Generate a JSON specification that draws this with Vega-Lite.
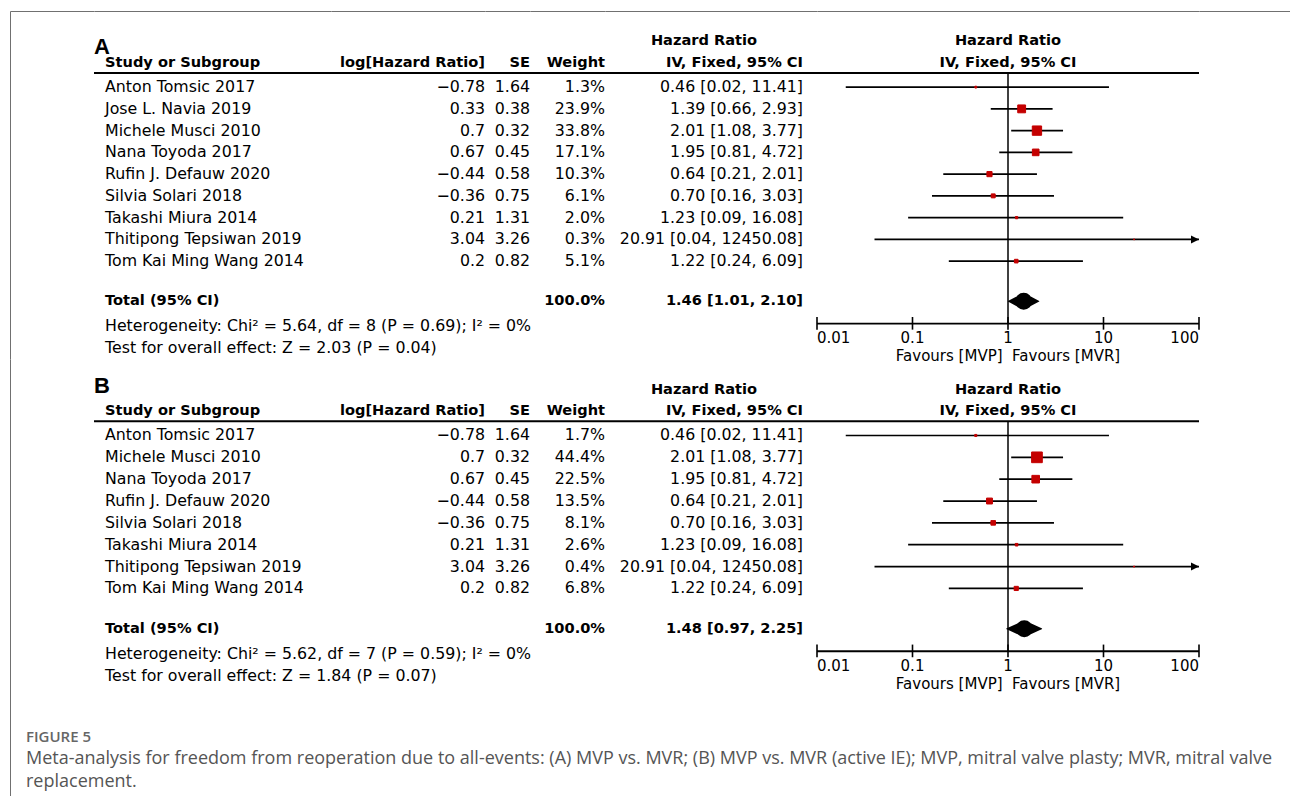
{
  "$schema": "https://vega.github.io/schema/vega-lite/v6.json",
  "background": "white",
  "padding": {"left": 9, "top": 10, "right": 0, "bottom": 0},
  "columns": 8,
  "spacing": 0,
  "bounds": "flush",
  "align": "each",
  "datasets": {
    "studiesA": [
      {"study": "Anton Tomsic 2017", "loghr": -0.78, "se": 1.64, "weight": 0.013, "hr": 0.46, "lo": 0.02, "hi": 11.41, "ci": "0.46 [0.02, 11.41]"},
      {"study": "Jose L. Navia 2019", "loghr": 0.33, "se": 0.38, "weight": 0.239, "hr": 1.39, "lo": 0.66, "hi": 2.93, "ci": "1.39 [0.66, 2.93]"},
      {"study": "Michele Musci 2010", "loghr": 0.7, "se": 0.32, "weight": 0.338, "hr": 2.01, "lo": 1.08, "hi": 3.77, "ci": "2.01 [1.08, 3.77]"},
      {"study": "Nana Toyoda 2017", "loghr": 0.67, "se": 0.45, "weight": 0.171, "hr": 1.95, "lo": 0.81, "hi": 4.72, "ci": "1.95 [0.81, 4.72]"},
      {"study": "Rufin J. Defauw 2020", "loghr": -0.44, "se": 0.58, "weight": 0.103, "hr": 0.64, "lo": 0.21, "hi": 2.01, "ci": "0.64 [0.21, 2.01]"},
      {"study": "Silvia Solari 2018", "loghr": -0.36, "se": 0.75, "weight": 0.061, "hr": 0.70, "lo": 0.16, "hi": 3.03, "ci": "0.70 [0.16, 3.03]"},
      {"study": "Takashi Miura 2014", "loghr": 0.21, "se": 1.31, "weight": 0.020, "hr": 1.23, "lo": 0.09, "hi": 16.08, "ci": "1.23 [0.09, 16.08]"},
      {"study": "Thitipong Tepsiwan 2019", "loghr": 3.04, "se": 3.26, "weight": 0.003, "hr": 20.91, "lo": 0.04, "hi": 12450.08, "ci": "20.91 [0.04, 12450.08]"},
      {"study": "Tom Kai Ming Wang 2014", "loghr": 0.2, "se": 0.82, "weight": 0.051, "hr": 1.22, "lo": 0.24, "hi": 6.09, "ci": "1.22 [0.24, 6.09]"}
    ],
    "summaryA": [
      {"line": "total", "label": "Total (95% CI)", "weight": 1, "hr": 1.46, "lo": 1.01, "hi": 2.10, "ci": "1.46 [1.01, 2.10]"}
    ],
    "notesA": [
      {"line": "het", "t": "Heterogeneity: Chi² = 5.64, df = 8 (P = 0.69); I² = 0%"},
      {"line": "test", "t": "Test for overall effect: Z = 2.03 (P = 0.04)"}
    ],
    "studiesB": [
      {"study": "Anton Tomsic 2017", "loghr": -0.78, "se": 1.64, "weight": 0.017, "hr": 0.46, "lo": 0.02, "hi": 11.41, "ci": "0.46 [0.02, 11.41]"},
      {"study": "Michele Musci 2010", "loghr": 0.7, "se": 0.32, "weight": 0.444, "hr": 2.01, "lo": 1.08, "hi": 3.77, "ci": "2.01 [1.08, 3.77]"},
      {"study": "Nana Toyoda 2017", "loghr": 0.67, "se": 0.45, "weight": 0.225, "hr": 1.95, "lo": 0.81, "hi": 4.72, "ci": "1.95 [0.81, 4.72]"},
      {"study": "Rufin J. Defauw 2020", "loghr": -0.44, "se": 0.58, "weight": 0.135, "hr": 0.64, "lo": 0.21, "hi": 2.01, "ci": "0.64 [0.21, 2.01]"},
      {"study": "Silvia Solari 2018", "loghr": -0.36, "se": 0.75, "weight": 0.081, "hr": 0.70, "lo": 0.16, "hi": 3.03, "ci": "0.70 [0.16, 3.03]"},
      {"study": "Takashi Miura 2014", "loghr": 0.21, "se": 1.31, "weight": 0.026, "hr": 1.23, "lo": 0.09, "hi": 16.08, "ci": "1.23 [0.09, 16.08]"},
      {"study": "Thitipong Tepsiwan 2019", "loghr": 3.04, "se": 3.26, "weight": 0.004, "hr": 20.91, "lo": 0.04, "hi": 12450.08, "ci": "20.91 [0.04, 12450.08]"},
      {"study": "Tom Kai Ming Wang 2014", "loghr": 0.2, "se": 0.82, "weight": 0.068, "hr": 1.22, "lo": 0.24, "hi": 6.09, "ci": "1.22 [0.24, 6.09]"}
    ],
    "summaryB": [
      {"line": "total", "label": "Total (95% CI)", "weight": 1, "hr": 1.48, "lo": 0.97, "hi": 2.25, "ci": "1.48 [0.97, 2.25]"}
    ],
    "notesB": [
      {"line": "het", "t": "Heterogeneity: Chi² = 5.62, df = 7 (P = 0.59); I² = 0%"},
      {"line": "test", "t": "Test for overall effect: Z = 1.84 (P = 0.07)"}
    ],
    "ticks": [{"v": 0.01}, {"v": 0.1}, {"v": 1}, {"v": 10}, {"v": 100}]
  },
  "concat": [
    {
      "width": 84, "height": 348,
      "view": {"stroke": "#707070", "strokeWidth": 1, "strokeDash": [84, 432, 348, 0]},
      "data": {"values": [{"line": "hdr1", "t": "A"}]},
      "mark": {"type": "text", "align": "left", "font": "Liberation Sans", "fontWeight": "bold", "fontSize": 22},
      "encoding": {
        "x": {"value": "width"},
        "y": {"field": "line", "type": "nominal", "bandPosition": 0.65, "scale": {"type": "band", "domain": ["pad","hdr1","hdr2","Anton Tomsic 2017","Jose L. Navia 2019","Michele Musci 2010","Nana Toyoda 2017","Rufin J. Defauw 2020","Silvia Solari 2018","Takashi Miura 2014","Thitipong Tepsiwan 2019","Tom Kai Ming Wang 2014","gap","total","het","test"]}},
        "text": {"field": "t"}
      }
    },
    {
      "width": 237, "height": 348,
      "view": {"stroke": "#707070", "strokeWidth": 1, "strokeDash": [237, 933]},
      "layer": [
        {"data": {"values": [{"line": "hdr2"}]}, "mark": {"type": "rule", "strokeWidth": 2.2},
         "encoding": {"y": {"field": "line", "type": "nominal", "bandPosition": 0.85, "scale": {"type": "band", "domain": ["pad","hdr1","hdr2","Anton Tomsic 2017","Jose L. Navia 2019","Michele Musci 2010","Nana Toyoda 2017","Rufin J. Defauw 2020","Silvia Solari 2018","Takashi Miura 2014","Thitipong Tepsiwan 2019","Tom Kai Ming Wang 2014","gap","total","het","test"]}}}},
        {"data": {"values": [{"line": "hdr2", "t": "Study or Subgroup"}]}, "mark": {"type": "text", "align": "left", "dx": 11, "fontWeight": "bold", "fontSize": 14.6},
         "encoding": {"x": {"value": 0}, "y": {"field": "line", "type": "nominal", "bandPosition": 0.4}, "text": {"field": "t"}}},
        {"data": {"name": "studiesA"}, "mark": {"type": "text", "align": "left", "dx": 11},
         "encoding": {"x": {"value": 0}, "y": {"field": "study", "type": "nominal"}, "text": {"field": "study"}}},
        {"data": {"name": "summaryA"}, "mark": {"type": "text", "align": "left", "dx": 11, "fontWeight": "bold", "fontSize": 14.6},
         "encoding": {"x": {"value": 0}, "y": {"field": "line", "type": "nominal", "bandPosition": 0.35}, "text": {"field": "label"}}},
        {"data": {"name": "notesA"}, "mark": {"type": "text", "align": "left", "dx": 11},
         "encoding": {"x": {"value": 0}, "y": {"field": "line", "type": "nominal"}, "text": {"field": "t"}}}
      ]
    },
    {
      "width": 154, "height": 348,
      "view": {"stroke": "#707070", "strokeWidth": 1, "strokeDash": [154, 850]},
      "layer": [
        {"data": {"values": [{"line": "hdr2"}]}, "mark": {"type": "rule", "strokeWidth": 2.2},
         "encoding": {"y": {"field": "line", "type": "nominal", "bandPosition": 0.85, "scale": {"type": "band", "domain": ["pad","hdr1","hdr2","Anton Tomsic 2017","Jose L. Navia 2019","Michele Musci 2010","Nana Toyoda 2017","Rufin J. Defauw 2020","Silvia Solari 2018","Takashi Miura 2014","Thitipong Tepsiwan 2019","Tom Kai Ming Wang 2014","gap","total","het","test"]}}}},
        {"data": {"values": [{"line": "hdr2", "t": "log[Hazard Ratio]"}]}, "mark": {"type": "text", "align": "right", "fontWeight": "bold", "fontSize": 14.6},
         "encoding": {"x": {"value": "width"}, "y": {"field": "line", "type": "nominal", "bandPosition": 0.4}, "text": {"field": "t"}}},
        {"data": {"name": "studiesA"}, "mark": {"type": "text", "align": "right"},
         "encoding": {"x": {"value": "width"}, "y": {"field": "study", "type": "nominal"}, "text": {"field": "loghr", "type": "quantitative", "format": "~g"}}}
      ]
    },
    {
      "width": 45, "height": 348,
      "view": {"stroke": "#707070", "strokeWidth": 1, "strokeDash": [45, 741]},
      "layer": [
        {"data": {"values": [{"line": "hdr2"}]}, "mark": {"type": "rule", "strokeWidth": 2.2},
         "encoding": {"y": {"field": "line", "type": "nominal", "bandPosition": 0.85, "scale": {"type": "band", "domain": ["pad","hdr1","hdr2","Anton Tomsic 2017","Jose L. Navia 2019","Michele Musci 2010","Nana Toyoda 2017","Rufin J. Defauw 2020","Silvia Solari 2018","Takashi Miura 2014","Thitipong Tepsiwan 2019","Tom Kai Ming Wang 2014","gap","total","het","test"]}}}},
        {"data": {"values": [{"line": "hdr2", "t": "SE"}]}, "mark": {"type": "text", "align": "right", "fontWeight": "bold", "fontSize": 14.6},
         "encoding": {"x": {"value": "width"}, "y": {"field": "line", "type": "nominal", "bandPosition": 0.4}, "text": {"field": "t"}}},
        {"data": {"name": "studiesA"}, "mark": {"type": "text", "align": "right"},
         "encoding": {"x": {"value": "width"}, "y": {"field": "study", "type": "nominal"}, "text": {"field": "se", "type": "quantitative", "format": "~g"}}}
      ]
    },
    {
      "width": 75, "height": 348,
      "view": {"stroke": "#707070", "strokeWidth": 1, "strokeDash": [75, 771]},
      "layer": [
        {"data": {"values": [{"line": "hdr2"}]}, "mark": {"type": "rule", "strokeWidth": 2.2},
         "encoding": {"y": {"field": "line", "type": "nominal", "bandPosition": 0.85, "scale": {"type": "band", "domain": ["pad","hdr1","hdr2","Anton Tomsic 2017","Jose L. Navia 2019","Michele Musci 2010","Nana Toyoda 2017","Rufin J. Defauw 2020","Silvia Solari 2018","Takashi Miura 2014","Thitipong Tepsiwan 2019","Tom Kai Ming Wang 2014","gap","total","het","test"]}}}},
        {"data": {"values": [{"line": "hdr2", "t": "Weight"}]}, "mark": {"type": "text", "align": "right", "fontWeight": "bold", "fontSize": 14.6},
         "encoding": {"x": {"value": "width"}, "y": {"field": "line", "type": "nominal", "bandPosition": 0.4}, "text": {"field": "t"}}},
        {"data": {"name": "studiesA"}, "mark": {"type": "text", "align": "right"},
         "encoding": {"x": {"value": "width"}, "y": {"field": "study", "type": "nominal"}, "text": {"field": "weight", "type": "quantitative", "format": ".1%"}}},
        {"data": {"name": "summaryA"}, "mark": {"type": "text", "align": "right", "fontWeight": "bold", "fontSize": 14.6},
         "encoding": {"x": {"value": "width"}, "y": {"field": "line", "type": "nominal", "bandPosition": 0.35}, "text": {"field": "weight", "type": "quantitative", "format": ".1%"}}}
      ]
    },
    {
      "width": 212, "height": 348,
      "view": {"stroke": "#707070", "strokeWidth": 1, "strokeDash": [212, 908]},
      "layer": [
        {"data": {"values": [{"line": "hdr2"}]}, "mark": {"type": "rule", "strokeWidth": 2.2},
         "encoding": {"y": {"field": "line", "type": "nominal", "bandPosition": 0.85, "scale": {"type": "band", "domain": ["pad","hdr1","hdr2","Anton Tomsic 2017","Jose L. Navia 2019","Michele Musci 2010","Nana Toyoda 2017","Rufin J. Defauw 2020","Silvia Solari 2018","Takashi Miura 2014","Thitipong Tepsiwan 2019","Tom Kai Ming Wang 2014","gap","total","het","test"]}}}},
        {"data": {"values": [{"line": "hdr1", "t": "Hazard Ratio"}]}, "mark": {"type": "text", "dx": -7, "fontWeight": "bold", "fontSize": 14.6},
         "encoding": {"y": {"field": "line", "type": "nominal", "bandPosition": 0.4}, "text": {"field": "t"}}},
        {"data": {"values": [{"line": "hdr2", "t": "IV, Fixed, 95% CI"}]}, "mark": {"type": "text", "align": "right", "dx": -14, "fontWeight": "bold", "fontSize": 14.6},
         "encoding": {"x": {"value": "width"}, "y": {"field": "line", "type": "nominal", "bandPosition": 0.4}, "text": {"field": "t"}}},
        {"data": {"name": "studiesA"}, "mark": {"type": "text", "align": "right", "dx": -14},
         "encoding": {"x": {"value": "width"}, "y": {"field": "study", "type": "nominal"}, "text": {"field": "ci"}}},
        {"data": {"name": "summaryA"}, "mark": {"type": "text", "align": "right", "dx": -14, "fontWeight": "bold", "fontSize": 14.6},
         "encoding": {"x": {"value": "width"}, "y": {"field": "line", "type": "nominal", "bandPosition": 0.35}, "text": {"field": "ci"}}}
      ]
    },
    {
      "width": 382, "height": 348,
      "view": {"stroke": "#707070", "strokeWidth": 1, "strokeDash": [382, 1078]},
      "resolve": {"scale": {"size": "independent"}},
      "layer": [
        {"data": {"values": [{"line": "hdr2"}]}, "mark": {"type": "rule", "strokeWidth": 2.2},
         "encoding": {"y": {"field": "line", "type": "nominal", "bandPosition": 0.85, "scale": {"type": "band", "domain": ["pad","hdr1","hdr2","Anton Tomsic 2017","Jose L. Navia 2019","Michele Musci 2010","Nana Toyoda 2017","Rufin J. Defauw 2020","Silvia Solari 2018","Takashi Miura 2014","Thitipong Tepsiwan 2019","Tom Kai Ming Wang 2014","gap","total","het","test"]}}}},
        {"data": {"values": [{"line": "hdr1", "t": "Hazard Ratio"}, {"line": "hdr2", "t": "IV, Fixed, 95% CI"}]}, "mark": {"type": "text", "fontWeight": "bold", "fontSize": 14.6},
         "encoding": {"y": {"field": "line", "type": "nominal", "bandPosition": 0.4}, "text": {"field": "t"}}},
        {"data": {"values": [{"hr": 1, "from": "hdr2", "to": "het"}]}, "mark": {"type": "rule", "strokeWidth": 1.5},
         "encoding": {"x": {"field": "hr", "type": "quantitative", "scale": {"type": "log", "domain": [0.01, 100], "clamp": true, "nice": false}},
                      "y": {"field": "from", "type": "nominal", "bandPosition": 0.85},
                      "y2": {"field": "to", "bandPosition": 0.375}}},
        {"data": {"name": "studiesA"}, "mark": {"type": "rule", "strokeWidth": 1.7},
         "encoding": {"x": {"field": "lo", "type": "quantitative", "scale": {"type": "log"}}, "x2": {"field": "hi"}, "y": {"field": "study", "type": "nominal"}}},
        {"data": {"name": "studiesA"}, "mark": {"type": "point", "shape": "square", "filled": true, "color": "#c40000", "stroke": "#c40000", "strokeWidth": 1, "opacity": 1},
         "encoding": {"x": {"field": "hr", "type": "quantitative", "scale": {"type": "log"}}, "y": {"field": "study", "type": "nominal"},
                      "size": {"field": "weight", "type": "quantitative", "scale": {"domain": [0, 1], "range": [0, 258]}}}},
        {"data": {"name": "studiesA"}, "transform": [{"filter": "datum.hi > 100"}],
         "mark": {"type": "point", "shape": "M0,0L-1,-0.5L-1,0.5Z", "filled": true, "color": "#000", "size": 256, "opacity": 1},
         "encoding": {"x": {"field": "hi", "type": "quantitative", "scale": {"type": "log"}}, "y": {"field": "study", "type": "nominal"}}},
        {"data": {"name": "summaryA"}, "transform": [{"fold": ["lo", "hr", "hi"], "as": ["part", "value"]}],
         "mark": {"type": "trail", "color": "#000"},
         "encoding": {"x": {"field": "value", "type": "quantitative", "scale": {"type": "log"}}, "y": {"field": "line", "type": "nominal", "bandPosition": 0.35},
                      "size": {"field": "part", "type": "ordinal", "scale": {"type": "ordinal", "domain": ["lo", "hr", "hi"], "range": [0, 17, 0]}}}},
        {"data": {"name": "ticks"}, "mark": {"type": "rule", "strokeWidth": 1.8},
         "encoding": {"x": {"aggregate": "min", "field": "v", "type": "quantitative", "scale": {"type": "log"}}, "x2": {"aggregate": "max", "field": "v"}, "y": {"datum": "het", "bandPosition": 0.375}}},
        {"data": {"name": "ticks"}, "mark": {"type": "rule", "strokeWidth": 1.6},
         "encoding": {"x": {"field": "v", "type": "quantitative", "scale": {"type": "log"}}, "y": {"datum": "het", "bandPosition": 0.07}, "y2": {"datum": "het", "bandPosition": 0.65}}},
        {"data": {"name": "ticks"},
         "transform": [{"joinaggregate": [{"op": "min", "field": "v", "as": "vmin"}, {"op": "max", "field": "v", "as": "vmax"}]}, {"filter": "datum.v > datum.vmin && datum.v < datum.vmax"}],
         "mark": {"type": "text", "fontSize": 15},
         "encoding": {"x": {"field": "v", "type": "quantitative", "scale": {"type": "log"}}, "y": {"datum": "test", "bandPosition": 0.05}, "text": {"field": "v", "type": "quantitative", "format": "~g"}}},
        {"data": {"name": "ticks"},
         "transform": [{"joinaggregate": [{"op": "min", "field": "v", "as": "vmin"}]}, {"filter": "datum.v == datum.vmin"}],
         "mark": {"type": "text", "align": "left", "fontSize": 15},
         "encoding": {"x": {"field": "v", "type": "quantitative", "scale": {"type": "log"}}, "y": {"datum": "test", "bandPosition": 0.05}, "text": {"field": "v", "type": "quantitative", "format": "~g"}}},
        {"data": {"name": "ticks"},
         "transform": [{"joinaggregate": [{"op": "max", "field": "v", "as": "vmax"}]}, {"filter": "datum.v == datum.vmax"}],
         "mark": {"type": "text", "align": "right", "fontSize": 15},
         "encoding": {"x": {"field": "v", "type": "quantitative", "scale": {"type": "log"}}, "y": {"datum": "test", "bandPosition": 0.05}, "text": {"field": "v", "type": "quantitative", "format": "~g"}}},
        {"data": {"values": [{"hr": 1, "line": "test", "t": "Favours [MVP]\u00a0\u00a0Favours [MVR]"}]}, "mark": {"type": "text", "fontSize": 15},
         "encoding": {"x": {"field": "hr", "type": "quantitative", "scale": {"type": "log"}}, "y": {"field": "line", "type": "nominal", "bandPosition": 0.88}, "text": {"field": "t"}}}
      ]
    },
    {
      "width": 91, "height": 348,
      "view": {"stroke": "#707070", "strokeWidth": 1, "strokeDash": [91, 787]},
      "data": {"values": [{}]},
      "mark": {"type": "text"},
      "encoding": {"text": {"value": ""}}
    },
    {
      "width": 84, "height": 437,
      "view": {"stroke": "#707070", "strokeWidth": 1, "strokeDash": [437, 605], "strokeDashOffset": 437},
      "layer": [
        {"data": {"values": [{"line": "hdr1", "t": "B"}]},
         "mark": {"type": "text", "align": "left", "font": "Liberation Sans", "fontWeight": "bold", "fontSize": 22},
         "encoding": {
           "x": {"value": "width"},
           "y": {"field": "line", "type": "nominal", "bandPosition": 0.22, "scale": {"type": "band", "domain": ["pad","hdr1","hdr2","Anton Tomsic 2017","Michele Musci 2010","Nana Toyoda 2017","Rufin J. Defauw 2020","Silvia Solari 2018","Takashi Miura 2014","Thitipong Tepsiwan 2019","Tom Kai Ming Wang 2014","gap","total","het","test","foot1","foot2","figure","l1","l2"]}},
           "text": {"field": "t"}
         }},
        {"data": {"values": [{"line": "figure", "t": "FIGURE 5"}]},
         "mark": {"type": "text", "align": "left", "dx": 16, "font": "Open Sans", "fontSize": 15, "fontWeight": 600, "fill": "#666666"},
         "encoding": {"x": {"value": 0}, "y": {"field": "line", "type": "nominal", "bandPosition": 0.3}, "text": {"field": "t"}}},
        {"data": {"values": [{"line": "l1", "t": "Meta-analysis for freedom from reoperation due to all-events: (A) MVP vs. MVR; (B) MVP vs. MVR (active IE); MVP, mitral valve plasty; MVR, mitral valve"}]},
         "mark": {"type": "text", "align": "left", "dx": 16, "font": "Open Sans", "fontSize": 18, "fill": "#555555"},
         "encoding": {"x": {"value": 0}, "y": {"field": "line", "type": "nominal", "bandPosition": 0.32}, "text": {"field": "t"}}},
        {"data": {"values": [{"line": "l2", "t": "replacement."}]},
         "mark": {"type": "text", "align": "left", "dx": 16, "font": "Open Sans", "fontSize": 18, "fill": "#555555"},
         "encoding": {"x": {"value": 0}, "y": {"field": "line", "type": "nominal", "bandPosition": 0.38}, "text": {"field": "t"}}}
      ]
    },
    {
      "width": 237, "height": 437,
      "layer": [
        {"data": {"values": [{"line": "hdr2"}]}, "mark": {"type": "rule", "strokeWidth": 2.2},
         "encoding": {"y": {"field": "line", "type": "nominal", "bandPosition": 0.85, "scale": {"type": "band", "domain": ["pad","hdr1","hdr2","Anton Tomsic 2017","Michele Musci 2010","Nana Toyoda 2017","Rufin J. Defauw 2020","Silvia Solari 2018","Takashi Miura 2014","Thitipong Tepsiwan 2019","Tom Kai Ming Wang 2014","gap","total","het","test","foot1","foot2","figure","l1","l2"]}}}},
        {"data": {"values": [{"line": "hdr2", "t": "Study or Subgroup"}]}, "mark": {"type": "text", "align": "left", "dx": 11, "fontWeight": "bold", "fontSize": 14.6},
         "encoding": {"x": {"value": 0}, "y": {"field": "line", "type": "nominal", "bandPosition": 0.4}, "text": {"field": "t"}}},
        {"data": {"name": "studiesB"}, "mark": {"type": "text", "align": "left", "dx": 11},
         "encoding": {"x": {"value": 0}, "y": {"field": "study", "type": "nominal"}, "text": {"field": "study"}}},
        {"data": {"name": "summaryB"}, "mark": {"type": "text", "align": "left", "dx": 11, "fontWeight": "bold", "fontSize": 14.6},
         "encoding": {"x": {"value": 0}, "y": {"field": "line", "type": "nominal", "bandPosition": 0.35}, "text": {"field": "label"}}},
        {"data": {"name": "notesB"}, "mark": {"type": "text", "align": "left", "dx": 11},
         "encoding": {"x": {"value": 0}, "y": {"field": "line", "type": "nominal"}, "text": {"field": "t"}}}
      ]
    },
    {
      "width": 154, "height": 437,
      "layer": [
        {"data": {"values": [{"line": "hdr2"}]}, "mark": {"type": "rule", "strokeWidth": 2.2},
         "encoding": {"y": {"field": "line", "type": "nominal", "bandPosition": 0.85, "scale": {"type": "band", "domain": ["pad","hdr1","hdr2","Anton Tomsic 2017","Michele Musci 2010","Nana Toyoda 2017","Rufin J. Defauw 2020","Silvia Solari 2018","Takashi Miura 2014","Thitipong Tepsiwan 2019","Tom Kai Ming Wang 2014","gap","total","het","test","foot1","foot2","figure","l1","l2"]}}}},
        {"data": {"values": [{"line": "hdr2", "t": "log[Hazard Ratio]"}]}, "mark": {"type": "text", "align": "right", "fontWeight": "bold", "fontSize": 14.6},
         "encoding": {"x": {"value": "width"}, "y": {"field": "line", "type": "nominal", "bandPosition": 0.4}, "text": {"field": "t"}}},
        {"data": {"name": "studiesB"}, "mark": {"type": "text", "align": "right"},
         "encoding": {"x": {"value": "width"}, "y": {"field": "study", "type": "nominal"}, "text": {"field": "loghr", "type": "quantitative", "format": "~g"}}}
      ]
    },
    {
      "width": 45, "height": 437,
      "layer": [
        {"data": {"values": [{"line": "hdr2"}]}, "mark": {"type": "rule", "strokeWidth": 2.2},
         "encoding": {"y": {"field": "line", "type": "nominal", "bandPosition": 0.85, "scale": {"type": "band", "domain": ["pad","hdr1","hdr2","Anton Tomsic 2017","Michele Musci 2010","Nana Toyoda 2017","Rufin J. Defauw 2020","Silvia Solari 2018","Takashi Miura 2014","Thitipong Tepsiwan 2019","Tom Kai Ming Wang 2014","gap","total","het","test","foot1","foot2","figure","l1","l2"]}}}},
        {"data": {"values": [{"line": "hdr2", "t": "SE"}]}, "mark": {"type": "text", "align": "right", "fontWeight": "bold", "fontSize": 14.6},
         "encoding": {"x": {"value": "width"}, "y": {"field": "line", "type": "nominal", "bandPosition": 0.4}, "text": {"field": "t"}}},
        {"data": {"name": "studiesB"}, "mark": {"type": "text", "align": "right"},
         "encoding": {"x": {"value": "width"}, "y": {"field": "study", "type": "nominal"}, "text": {"field": "se", "type": "quantitative", "format": "~g"}}}
      ]
    },
    {
      "width": 75, "height": 437,
      "layer": [
        {"data": {"values": [{"line": "hdr2"}]}, "mark": {"type": "rule", "strokeWidth": 2.2},
         "encoding": {"y": {"field": "line", "type": "nominal", "bandPosition": 0.85, "scale": {"type": "band", "domain": ["pad","hdr1","hdr2","Anton Tomsic 2017","Michele Musci 2010","Nana Toyoda 2017","Rufin J. Defauw 2020","Silvia Solari 2018","Takashi Miura 2014","Thitipong Tepsiwan 2019","Tom Kai Ming Wang 2014","gap","total","het","test","foot1","foot2","figure","l1","l2"]}}}},
        {"data": {"values": [{"line": "hdr2", "t": "Weight"}]}, "mark": {"type": "text", "align": "right", "fontWeight": "bold", "fontSize": 14.6},
         "encoding": {"x": {"value": "width"}, "y": {"field": "line", "type": "nominal", "bandPosition": 0.4}, "text": {"field": "t"}}},
        {"data": {"name": "studiesB"}, "mark": {"type": "text", "align": "right"},
         "encoding": {"x": {"value": "width"}, "y": {"field": "study", "type": "nominal"}, "text": {"field": "weight", "type": "quantitative", "format": ".1%"}}},
        {"data": {"name": "summaryB"}, "mark": {"type": "text", "align": "right", "fontWeight": "bold", "fontSize": 14.6},
         "encoding": {"x": {"value": "width"}, "y": {"field": "line", "type": "nominal", "bandPosition": 0.35}, "text": {"field": "weight", "type": "quantitative", "format": ".1%"}}}
      ]
    },
    {
      "width": 212, "height": 437,
      "layer": [
        {"data": {"values": [{"line": "hdr2"}]}, "mark": {"type": "rule", "strokeWidth": 2.2},
         "encoding": {"y": {"field": "line", "type": "nominal", "bandPosition": 0.85, "scale": {"type": "band", "domain": ["pad","hdr1","hdr2","Anton Tomsic 2017","Michele Musci 2010","Nana Toyoda 2017","Rufin J. Defauw 2020","Silvia Solari 2018","Takashi Miura 2014","Thitipong Tepsiwan 2019","Tom Kai Ming Wang 2014","gap","total","het","test","foot1","foot2","figure","l1","l2"]}}}},
        {"data": {"values": [{"line": "hdr1", "t": "Hazard Ratio"}]}, "mark": {"type": "text", "dx": -7, "fontWeight": "bold", "fontSize": 14.6},
         "encoding": {"y": {"field": "line", "type": "nominal", "bandPosition": 0.4}, "text": {"field": "t"}}},
        {"data": {"values": [{"line": "hdr2", "t": "IV, Fixed, 95% CI"}]}, "mark": {"type": "text", "align": "right", "dx": -14, "fontWeight": "bold", "fontSize": 14.6},
         "encoding": {"x": {"value": "width"}, "y": {"field": "line", "type": "nominal", "bandPosition": 0.4}, "text": {"field": "t"}}},
        {"data": {"name": "studiesB"}, "mark": {"type": "text", "align": "right", "dx": -14},
         "encoding": {"x": {"value": "width"}, "y": {"field": "study", "type": "nominal"}, "text": {"field": "ci"}}},
        {"data": {"name": "summaryB"}, "mark": {"type": "text", "align": "right", "dx": -14, "fontWeight": "bold", "fontSize": 14.6},
         "encoding": {"x": {"value": "width"}, "y": {"field": "line", "type": "nominal", "bandPosition": 0.35}, "text": {"field": "ci"}}}
      ]
    },
    {
      "width": 382, "height": 437,
      "resolve": {"scale": {"size": "independent"}},
      "layer": [
        {"data": {"values": [{"line": "hdr2"}]}, "mark": {"type": "rule", "strokeWidth": 2.2},
         "encoding": {"y": {"field": "line", "type": "nominal", "bandPosition": 0.85, "scale": {"type": "band", "domain": ["pad","hdr1","hdr2","Anton Tomsic 2017","Michele Musci 2010","Nana Toyoda 2017","Rufin J. Defauw 2020","Silvia Solari 2018","Takashi Miura 2014","Thitipong Tepsiwan 2019","Tom Kai Ming Wang 2014","gap","total","het","test","foot1","foot2","figure","l1","l2"]}}}},
        {"data": {"values": [{"line": "hdr1", "t": "Hazard Ratio"}, {"line": "hdr2", "t": "IV, Fixed, 95% CI"}]}, "mark": {"type": "text", "fontWeight": "bold", "fontSize": 14.6},
         "encoding": {"y": {"field": "line", "type": "nominal", "bandPosition": 0.4}, "text": {"field": "t"}}},
        {"data": {"values": [{"hr": 1, "from": "hdr2", "to": "het"}]}, "mark": {"type": "rule", "strokeWidth": 1.5},
         "encoding": {"x": {"field": "hr", "type": "quantitative", "scale": {"type": "log", "domain": [0.01, 100], "clamp": true, "nice": false}},
                      "y": {"field": "from", "type": "nominal", "bandPosition": 0.85},
                      "y2": {"field": "to", "bandPosition": 0.375}}},
        {"data": {"name": "studiesB"}, "mark": {"type": "rule", "strokeWidth": 1.7},
         "encoding": {"x": {"field": "lo", "type": "quantitative", "scale": {"type": "log"}}, "x2": {"field": "hi"}, "y": {"field": "study", "type": "nominal"}}},
        {"data": {"name": "studiesB"}, "mark": {"type": "point", "shape": "square", "filled": true, "color": "#c40000", "stroke": "#c40000", "strokeWidth": 1, "opacity": 1},
         "encoding": {"x": {"field": "hr", "type": "quantitative", "scale": {"type": "log"}}, "y": {"field": "study", "type": "nominal"},
                      "size": {"field": "weight", "type": "quantitative", "scale": {"domain": [0, 1], "range": [0, 258]}}}},
        {"data": {"name": "studiesB"}, "transform": [{"filter": "datum.hi > 100"}],
         "mark": {"type": "point", "shape": "M0,0L-1,-0.5L-1,0.5Z", "filled": true, "color": "#000", "size": 256, "opacity": 1},
         "encoding": {"x": {"field": "hi", "type": "quantitative", "scale": {"type": "log"}}, "y": {"field": "study", "type": "nominal"}}},
        {"data": {"name": "summaryB"}, "transform": [{"fold": ["lo", "hr", "hi"], "as": ["part", "value"]}],
         "mark": {"type": "trail", "color": "#000"},
         "encoding": {"x": {"field": "value", "type": "quantitative", "scale": {"type": "log"}}, "y": {"field": "line", "type": "nominal", "bandPosition": 0.35},
                      "size": {"field": "part", "type": "ordinal", "scale": {"type": "ordinal", "domain": ["lo", "hr", "hi"], "range": [0, 17, 0]}}}},
        {"data": {"name": "ticks"}, "mark": {"type": "rule", "strokeWidth": 1.8},
         "encoding": {"x": {"aggregate": "min", "field": "v", "type": "quantitative", "scale": {"type": "log"}}, "x2": {"aggregate": "max", "field": "v"}, "y": {"datum": "het", "bandPosition": 0.375}}},
        {"data": {"name": "ticks"}, "mark": {"type": "rule", "strokeWidth": 1.6},
         "encoding": {"x": {"field": "v", "type": "quantitative", "scale": {"type": "log"}}, "y": {"datum": "het", "bandPosition": 0.07}, "y2": {"datum": "het", "bandPosition": 0.65}}},
        {"data": {"name": "ticks"},
         "transform": [{"joinaggregate": [{"op": "min", "field": "v", "as": "vmin"}, {"op": "max", "field": "v", "as": "vmax"}]}, {"filter": "datum.v > datum.vmin && datum.v < datum.vmax"}],
         "mark": {"type": "text", "fontSize": 15},
         "encoding": {"x": {"field": "v", "type": "quantitative", "scale": {"type": "log"}}, "y": {"datum": "test", "bandPosition": 0.05}, "text": {"field": "v", "type": "quantitative", "format": "~g"}}},
        {"data": {"name": "ticks"},
         "transform": [{"joinaggregate": [{"op": "min", "field": "v", "as": "vmin"}]}, {"filter": "datum.v == datum.vmin"}],
         "mark": {"type": "text", "align": "left", "fontSize": 15},
         "encoding": {"x": {"field": "v", "type": "quantitative", "scale": {"type": "log"}}, "y": {"datum": "test", "bandPosition": 0.05}, "text": {"field": "v", "type": "quantitative", "format": "~g"}}},
        {"data": {"name": "ticks"},
         "transform": [{"joinaggregate": [{"op": "max", "field": "v", "as": "vmax"}]}, {"filter": "datum.v == datum.vmax"}],
         "mark": {"type": "text", "align": "right", "fontSize": 15},
         "encoding": {"x": {"field": "v", "type": "quantitative", "scale": {"type": "log"}}, "y": {"datum": "test", "bandPosition": 0.05}, "text": {"field": "v", "type": "quantitative", "format": "~g"}}},
        {"data": {"values": [{"hr": 1, "line": "test", "t": "Favours [MVP]\u00a0\u00a0Favours [MVR]"}]}, "mark": {"type": "text", "fontSize": 15},
         "encoding": {"x": {"field": "hr", "type": "quantitative", "scale": {"type": "log"}}, "y": {"field": "line", "type": "nominal", "bandPosition": 0.88}, "text": {"field": "t"}}}
      ]
    }
  ],
  "config": {
    "view": {"stroke": null},
    "axis": {"disable": true},
    "legend": {"disable": true},
    "concat": {"spacing": 0},
    "scale": {"bandPaddingInner": 0, "bandPaddingOuter": 0},
    "text": {"font": "DejaVu Sans", "fontSize": 15.8, "baseline": "middle", "fill": "#000000"},
    "rule": {"color": "#000000"}
  }
}
